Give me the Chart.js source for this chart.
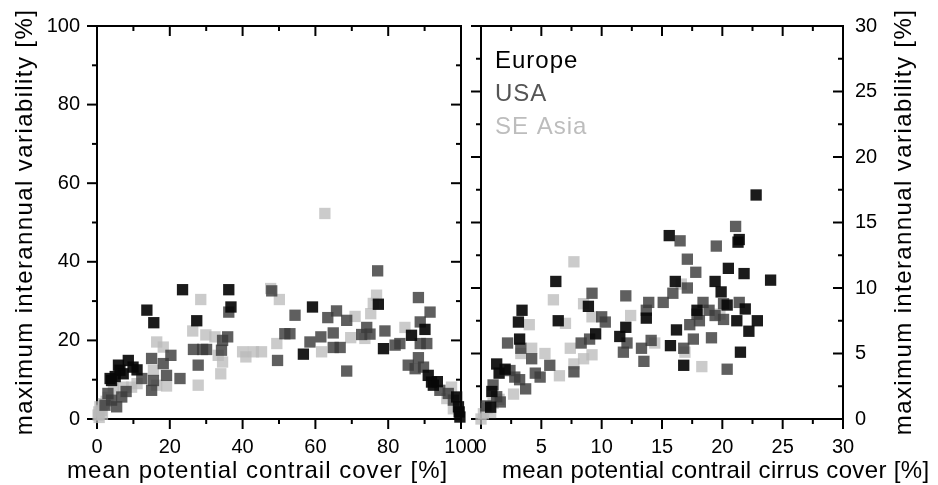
<!DOCTYPE html>
<html><head><meta charset="utf-8">
<script src="https://cdn.jsdelivr.net/npm/chart.js@4.4.1/dist/chart.umd.min.js"></script>
<style>
html,body{margin:0;padding:0;background:#fff}
body{width:938px;height:485px;overflow:hidden;position:relative}
canvas{position:absolute;left:0;top:0}
</style></head><body>
<canvas id="cl" width="938" height="485"></canvas>
<canvas id="cr" width="938" height="485"></canvas>
<script>
// ---------------- data ----------------
const seriesNames = ['Europe', 'USA', 'SE Asia'];

// left panel: mean potential contrail cover [%] vs max interannual variability [%]
const coverEurope = [[23.5,32.9],[36.2,32.9],[36.8,28.5],[13.7,27.7],[15.6,24.5],[27.4,25.0],[59.2,28.5],[56.7,16.5],[77.3,29.2],[78.7,17.9],[86.4,21.3],[90.1,22.8],[91,11.1],[91.9,9.4],[92.4,8.6],[93.5,9.5],[98.8,5.6],[99.3,3.1],[99.7,0.5],[99.5,1.8],[5.9,13.7],[6.3,12.4],[8.6,14.9],[9.9,13.2],[3.6,10.3],[7.2,11.5],[11,12.5],[5,10.8],[4,9.8]];
const coverUSA = [[48,32.6],[77.1,37.7],[35.9,20.9],[34.5,20.0],[36.2,27.2],[20.3,16.2],[22.8,10.3],[27.8,13.7],[26.5,17.7],[29,17.7],[30.1,17.7],[34.2,17.5],[15,15.4],[18.2,14.1],[19.1,11.1],[15,7.3],[15.5,9.8],[12.3,10.3],[49.6,14.9],[51.6,21.7],[53,21.7],[54.4,26.4],[58.5,19.6],[61.5,20.9],[63.4,25.8],[65.8,27.5],[64.9,21.9],[64.9,18.2],[66.8,18.2],[68.6,25.1],[68.6,12.2],[72.7,21.5],[74.1,23.3],[75,21.6],[79.1,22.4],[81.9,18.8],[83.2,19.2],[85.5,13.7],[87.4,12.8],[88.3,30.9],[88.8,24.7],[91.5,27.2],[88.8,19.2],[90.6,19.2],[88.3,15.6],[89.7,13.2],[94.2,7.3],[96.5,6.5],[97.9,4.8],[6.8,5.6],[4,4.8],[2.2,3.5],[5.4,3.1],[3,6.5],[8,7]];
const coverAsia = [[28.5,30.4],[26.3,22.4],[29.9,21.4],[32.4,20.9],[16.4,19.6],[18.2,18.3],[27.8,8.6],[33.3,16.2],[34.5,14.5],[34,11.5],[15.5,12.4],[16.4,8.6],[19.1,8.4],[40,17.1],[43,17.1],[45.2,17.1],[40.9,15.8],[47.7,33.2],[50.1,30.4],[49.4,19.2],[61.7,17.1],[62.6,52.3],[70.9,26.1],[69.7,20.7],[75.2,26.8],[75.9,29.4],[76.8,31.5],[73.6,20.5],[84.6,23.3],[97.4,8.1],[96.1,5.2],[97.9,2.6],[4.5,7.7],[7.2,8.1],[9.5,8.1],[11,9],[0.8,3.1],[0.5,1.8],[0.3,1.0],[1.8,3.9],[1.2,2.2],[2.5,4.5],[3,5.5],[0.6,0.4],[1.5,1.2]];

// right panel: mean potential contrail cirrus cover [%] vs max interannual variability [%]
const cirrusEurope = [[22.8,17.1],[15.6,14.0],[21.4,13.7],[21.3,13.5],[20.5,11.5],[21.8,11.1],[24,10.6],[6.2,10.5],[16.1,10.5],[19.4,10.5],[19.9,9.7],[20.4,8.7],[8.9,8.6],[13.7,7.7],[3.4,8.3],[3.1,7.4],[6.4,7.5],[12,7.0],[9.5,6.5],[11.5,6.3],[16.2,6.8],[15.7,5.6],[16.8,4.1],[17.9,8.3],[21.5,5.1],[21.2,7.5],[21.9,8.4],[22.9,7.5],[22.2,6.7],[3.2,6.1],[1.3,4.2],[1.5,3.5],[0.9,2.1],[0.8,0.9],[2,3.8]];
const cirrusUSA = [[21.1,14.7],[16.5,13.6],[19.5,13.2],[17.1,12.2],[17.8,11.2],[15.9,9.6],[17.1,10.0],[20.1,8.8],[21.4,8.9],[9.2,9.6],[12,9.4],[13.9,8.9],[15.1,8.9],[13.7,8.3],[10,7.8],[10.3,7.4],[9,6.1],[8.3,5.8],[12.1,5.8],[11.8,5.1],[13.3,5.4],[14.1,6],[13.5,4.4],[16.8,5.4],[17.6,6.1],[17.3,7.2],[17.9,8.0],[18.4,8.9],[18.9,8.3],[20.1,7.6],[19.1,6.2],[20.4,3.8],[2.2,5.8],[3.3,5.4],[4.2,4.6],[5.7,4.1],[4.5,3.5],[4.9,3.2],[7.7,3.6],[2.4,3.7],[2.8,3.2],[3.2,3.0],[3.7,2.3],[1.0,2.6],[1.3,1.7],[1.6,1.3],[0.4,1.0],[18.1,7.5],[19.4,7.9]];
const cirrusAsia = [[7.7,12.0],[16.6,10.3],[6,9.1],[8.5,8.8],[12.4,7.9],[4,7.2],[7,7.3],[9.2,7.8],[7.4,5.4],[14.4,5.8],[16.9,5.1],[19.8,8.0],[18.3,4.0],[3.3,5.0],[4.2,5.4],[5.3,5.0],[6.5,3.3],[7.7,4.2],[8.5,4.6],[9.2,4.9],[2.7,1.9],[0.5,0.8],[0.2,0.4],[0,0],[1,1.2],[0.8,0.5],[1.5,1.5]];

const leftTicksY = [0, 20, 40, 60, 80, 100];
const rightTicksY = [0, 5, 10, 15, 20, 25, 30];

const xTitleLeft = 'mean potential contrail cover [%]';
const xTitleRight = 'mean potential contrail cirrus cover [%]';
const yTitle = 'maximum interannual variability [%]';

// ---------------- styling ----------------
const FONT = "'Liberation Sans', Arial, Helvetica, sans-serif";
const markColors = ['rgba(8,8,8,0.92)', 'rgba(60,60,60,0.82)', 'rgba(185,185,185,0.75)'];
const legendColors = ['#000000', '#555555', '#bdbdbd'];

function toPts(a){ return a.map(p => ({x:p[0], y:p[1]})); }
function makeSets(e,u,s){
  return [e,u,s].map((d,i)=>({
    label: seriesNames[i], data: toPts(d),
    pointStyle:'rect', pointRadius:8, pointHoverRadius:8,
    backgroundColor: markColors[i], borderColor: markColors[i], borderWidth:0,
    clip:false, order:i
  }));
}

// frame + ticks (bottom/left outward, top/right inward)
const frameTicks = {
  id:'frameTicks',
  beforeDatasetsDraw(chart, args, o){
    const {ctx, chartArea:a} = chart;
    const xs = chart.scales.x, ys = chart.scales.y;
    ctx.save();
    ctx.strokeStyle='#000'; ctx.lineWidth=2; ctx.lineCap='butt';
    ctx.strokeRect(a.left, a.top, a.right-a.left, a.bottom-a.top);
    const seg=(x1,y1,x2,y2)=>{ctx.beginPath();ctx.moveTo(x1,y1);ctx.lineTo(x2,y2);ctx.stroke();};
    const isMaj=(v,m)=>Math.abs(v/m-Math.round(v/m))<1e-6;
    for(let v=xs.min; v<=xs.max+1e-9; v+=o.xMinor){
      const L = isMaj(v,o.xMajor)?10:5, p = xs.getPixelForValue(v);
      seg(p,a.bottom,p,a.bottom+L); seg(p,a.top,p,a.top+L);
    }
    for(let v=ys.min; v<=ys.max+1e-9; v+=o.yMinor){
      const L = isMaj(v,o.yMajor)?10:5, p = ys.getPixelForValue(v);
      seg(a.left-L,p,a.left,p); seg(a.right-L,p,a.right,p);
    }
    ctx.restore();
  }
};

// axis titles + legend
const textDeco = {
  id:'textDeco',
  afterDraw(chart, args, o){
    const ctx = chart.ctx;
    const hasLS = ('letterSpacing' in ctx);
    ctx.save();
    ctx.fillStyle='#000';
    ctx.font = '24px ' + FONT;
    ctx.textAlign='left'; ctx.textBaseline='alphabetic';
    if (hasLS) ctx.letterSpacing = o.xLS + 'px';
    ctx.fillText(o.xTitle, o.xTitleX, o.xTitleY);
    ctx.save();
    if (hasLS) ctx.letterSpacing = o.yLS + 'px';
    ctx.translate(o.yTitleX, o.yTitleY);
    ctx.rotate(-Math.PI/2);
    ctx.textAlign='center';
    ctx.fillText(o.yTitle, 0, 0);
    ctx.restore();
    if (o.legend){
      if (hasLS) ctx.letterSpacing = '1px';
      chart.data.datasets.forEach((ds,i)=>{
        ctx.fillStyle = legendColors[i];
        ctx.fillText(ds.label, o.legendX, o.legendY + i*33);
      });
    }
    ctx.restore();
  }
};

const tickFont = {family: FONT, size: 20};

function baseScales(xmax, xstep, ymax, ystep, yPos, yWidth, yPad){
  return {
    x: {type:'linear', position:'bottom', min:0, max:xmax,
        ticks:{stepSize:xstep, color:'#000', font:tickFont, padding:16, maxRotation:0, autoSkip:false},
        grid:{display:false, drawTicks:false}, border:{display:false},
        afterFit(s){ s.height = 66; s.paddingLeft = 0; s.paddingRight = 0; }},
    y: {type:'linear', position:yPos, min:0, max:ymax,
        ticks:{stepSize:ystep, color:'#000', font:tickFont, padding:yPad},
        grid:{display:false, drawTicks:false}, border:{display:false},
        afterFit(s){ s.width = yWidth; s.paddingTop = 0; s.paddingBottom = 0; }}
  };
}

new Chart(document.getElementById('cl'), {
  type:'scatter',
  data:{datasets: makeSets(coverEurope, coverUSA, coverAsia)},
  options:{
    responsive:false, animation:false, events:[],
    layout:{padding:{left:0, right:477, top:26, bottom:0}},
    scales: baseScales(100, 20, leftTicksY[leftTicksY.length-1], leftTicksY[1]-leftTicksY[0], 'left', 97, 17),
    plugins:{legend:{display:false}, tooltip:{enabled:false},
      frameTicks:{xMajor:20, xMinor:10, yMajor:20, yMinor:10},
      textDeco:{xTitle:xTitleLeft, xTitleX:67, xTitleY:478, xLS:1, yTitle:yTitle, yTitleX:32, yTitleY:222, yLS:1.4, legend:false}}
  },
  plugins:[frameTicks, textDeco]
});

new Chart(document.getElementById('cr'), {
  type:'scatter',
  data:{datasets: makeSets(cirrusEurope, cirrusUSA, cirrusAsia)},
  options:{
    responsive:false, animation:false, events:[],
    layout:{padding:{left:481, right:0, top:26, bottom:0}},
    scales: baseScales(30, 5, rightTicksY[rightTicksY.length-1], rightTicksY[1]-rightTicksY[0], 'right', 95, 12),
    plugins:{legend:{display:false}, tooltip:{enabled:false},
      frameTicks:{xMajor:5, xMinor:2.5, yMajor:5, yMinor:2.5},
      textDeco:{xTitle:xTitleRight, xTitleX:502, xTitleY:478, xLS:0.35, yTitle:yTitle, yTitleX:911, yTitleY:222, yLS:1.4,
                legend:true, legendX:495, legendY:68}}
  },
  plugins:[frameTicks, textDeco]
});
</script>
</body></html>
